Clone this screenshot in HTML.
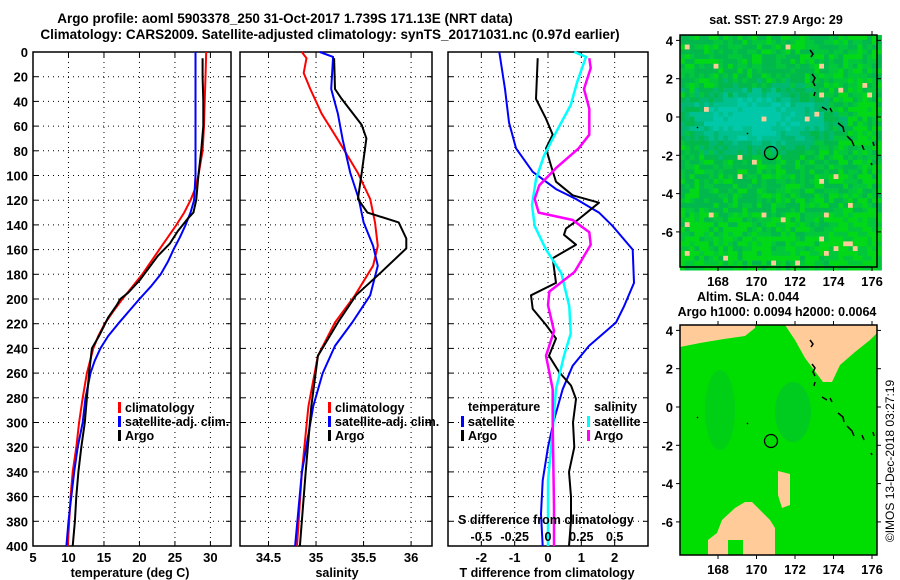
<!DOCTYPE html>
<html><head><meta charset="utf-8"><style>
html,body{margin:0;padding:0;background:#fff;}
svg{display:block;font-family:"Liberation Sans",sans-serif;font-weight:bold;}
</style></head><body>
<svg id="chart" width="900" height="580" viewBox="0 0 900 580" xmlns="http://www.w3.org/2000/svg">
<text x="285" y="23" font-size="13.5" text-anchor="middle">Argo profile: aoml 5903378_250 31-Oct-2017 1.739S 171.13E (NRT data)</text>
<text x="330" y="39" font-size="13.5" text-anchor="middle">Climatology: CARS2009. Satellite-adjusted climatology: synTS_20171031.nc (0.97d earlier)</text>
<g id="panels"></g>
<g id="maps"></g>
<text transform="translate(894,461) rotate(-90)" font-size="12" font-weight="normal" text-anchor="middle">©IMOS 13-Dec-2018 03:27:19</text>
</svg>
<script>
// ---------- data ----------
const depthTicks=[0,20,40,60,80,100,120,140,160,180,200,220,240,260,280,300,320,340,360,380,400];
const tempTicks=[5,10,15,20,25,30];
const salTicks=[34.5,35,35.5,36];
const tdiffTicks=[-2,-1,0,1,2];
const sdiffTicks=[-0.5,-0.25,0,0.25,0.5];
const sdiffTickLabels=["-0.5","-0.25","0","0.25","0.5"];

const depthTempClim=[0,20,40,60,80,100,110,120,130,140,150,160,170,180,190,200,210,220,230,240,260,280,300,320,340,360,380,400];
const tempClim=[29.4,29.3,29.2,29.1,28.9,28.3,27.9,27.2,26.3,25.2,24.0,22.8,21.6,20.4,19.0,17.6,16.3,15.1,14.2,13.5,12.6,12.0,11.5,11.1,10.6,10.3,10.1,9.9];
const depthTempSat=[0,50,100,120,130,140,150,160,170,180,190,200,210,220,230,240,250,260,280,300,320,340,360,380,400];
const tempSat=[27.9,27.9,27.9,27.7,27.2,26.5,25.7,24.8,24.0,23.0,21.6,20.0,18.5,17.0,15.6,14.5,13.7,13.1,12.4,12.0,11.3,10.8,10.4,10.0,9.7];
const depthTempArgo=[5,20,40,60,80,100,120,130,135,145,155,165,175,185,195,200,205,215,230,240,260,280,300,320,340,360,380,400];
const tempArgo=[28.9,28.9,29.0,29.0,28.7,28.3,28.0,27.6,26.8,25.4,24.3,22.6,21.3,20.0,18.4,17.3,16.8,15.6,14.3,13.3,12.9,12.6,12.3,11.8,11.4,11.1,10.9,10.6];

const depthSalClim=[0,5,17,30,50,71,98,119,138,157,173,197,219,246,287,341,400];
const salClim=[34.85,34.90,34.87,34.94,35.06,35.23,35.44,35.57,35.62,35.65,35.60,35.41,35.20,35.02,34.92,34.85,34.80];
const depthSalSat=[0,4,30,50,71,98,119,138,157,173,197,219,238,260,287,341,400];
const salSat=[35.04,35.18,35.16,35.23,35.28,35.36,35.45,35.50,35.60,35.65,35.57,35.38,35.20,35.07,34.97,34.85,34.78];
const depthSalArgo=[5,30,38,59,70,98,119,130,138,151,159,178,197,219,246,287,341,400];
const salArgo=[35.19,35.20,35.27,35.48,35.53,35.48,35.44,35.54,35.87,35.95,35.95,35.69,35.42,35.23,35.02,34.95,34.89,34.83];

const depthTdiffSat=[0,30,57,78,97,111,119,130,141,160,187,206,219,238,254,273,298,320,347,374,400];
const tdiffSat=[-1.46,-1.29,-1.17,-0.96,-0.46,0.24,0.84,1.53,1.94,2.54,2.58,2.28,2.04,1.23,0.74,0.44,0.18,0,-0.16,-0.21,-0.16];
const depthTdiffArgo=[5,38,54,67,78,92,105,116,122,136,143,148,156,167,187,197,208,221,232,246,259,270,281,300,320,340,360,380,400];
const tdiffArgo=[-0.31,-0.36,-0.06,0.14,-0.06,0.09,0.24,0.74,1.53,0.89,0.54,0.48,0.84,0.14,0.24,-0.51,-0.46,-0.06,0.24,0.03,0.33,0.69,0.84,0.75,0.79,0.63,0.69,0.69,0.63];
const depthSdiffSat=[0,4,24,43,65,84,103,124,141,160,179,206,228,246,273,313,347,400];
const sdiffSat=[0.197,0.285,0.22,0.17,0.06,-0.03,-0.09,-0.12,-0.10,-0.015,0.10,0.16,0.17,0.12,0.06,0.03,0,0];
const depthSdiffArgo=[5,13,30,46,67,78,94,108,119,130,136,146,156,178,194,205,226,246,273,300,368,400];
const sdiffArgo=[0.31,0.32,0.27,0.31,0.31,0.23,0.06,-0.065,-0.1,-0.07,0.185,0.31,0.32,0.2,0.01,0,0.045,-0.015,0.035,0.035,0.045,0.045];

const lonTicks=[168,170,172,174,176];
const latTicks=[4,2,0,-2,-4,-6];

// ---------- helpers ----------
const NS="http://www.w3.org/2000/svg";
function mk(tag,attrs,parent){const e=document.createElementNS(NS,tag);for(const k in attrs)e.setAttribute(k,attrs[k]);parent.appendChild(e);return e;}
const panels=document.getElementById('panels');
const Y0=52,Y1=546;
const yDepth=d=>Y0+d/400*(Y1-Y0);
function lin(d0,d1,r0,r1){return v=>r0+(v-d0)/(d1-d0)*(r1-r0);}

function drawFrame(x0,x1,xs,ticks,name){
  const g=mk('g',{},panels);
  
  
  ticks.forEach(t=>{const x=xs(t);
    const l=mk('line',{x1:x,x2:x,y1:Y0,y2:Y1,stroke:'#000','stroke-width':1,'stroke-dasharray':'1,4'},g);
    
    mk('line',{x1:x,x2:x,y1:Y1,y2:Y1-5,stroke:'#000'},g);
    mk('line',{x1:x,x2:x,y1:Y0,y2:Y0+5,stroke:'#000'},g);
  });
  depthTicks.forEach(d=>{const y=yDepth(d);
    if(d>0&&d<400){const l=mk('line',{x1:x0,x2:x1,y1:y,y2:y,stroke:'#000','stroke-width':1,'stroke-dasharray':'1,4'},g);
    }
    mk('line',{x1:x0,x2:x0+5,y1:y,y2:y,stroke:'#000'},g);
    mk('line',{x1:x1-5,x2:x1,y1:y,y2:y,stroke:'#000'},g);
  });
  const r=mk('rect',{x:x0,y:Y0,width:x1-x0,height:Y1-Y0,fill:'none',stroke:'#000','stroke-width':1.5},g);
  
  return g;
}
function line(xs,depths,vals,color,w,name,g){
  const pts=vals.map((v,i)=>xs(v).toFixed(1)+','+yDepth(depths[i]).toFixed(1)).join(' ');
  const p=mk('polyline',{points:pts,fill:'none',stroke:color,'stroke-width':w,'stroke-linejoin':'round'},g);
  
  
}
function txt(x,y,s,size,anchor,name,parent,fill){
  const t=mk('text',{x:x,y:y,'font-size':size,'text-anchor':anchor||'start',fill:fill||'#000'},parent);
  t.textContent=s;
  
  
  return t;
}
function legendEntry(x,y,color,label,g){
  const b=mk('rect',{x:x,y:y-10,width:3,height:11,fill:color},g);
  
  txt(x+7,y,label,12.5,'start','legend-entry',g);
}

depthTicks.forEach(d=>txt(28,yDepth(d)+5,String(d),13,'end','y-tick-label',panels));

const xT=lin(5,32.9,33,231);
const g1=drawFrame(33,231,xT,tempTicks,'temperature-panel');
line(xT,depthTempClim,tempClim,'#f00',2,'temperature-climatology-line',g1);
line(xT,depthTempSat,tempSat,'#00f',2,'temperature-satellite-line',g1);
line(xT,depthTempArgo,tempArgo,'#000',2,'temperature-argo-line',g1);
tempTicks.forEach(t=>txt(xT(t),562,String(t),13,'middle','x-tick-label',panels));
txt(130,577,'temperature (deg C)',12.5,'middle','x-axis-title',panels);
legendEntry(118,412,'#f00','climatology',g1);
legendEntry(118,426,'#00f','satellite-adj. clim.',g1);
legendEntry(118,440,'#000','Argo',g1);

const xS=lin(34.2,36.22,240,432);
const g2=drawFrame(240,432,xS,salTicks,'salinity-panel');
line(xS,depthSalClim,salClim,'#f00',2,'salinity-climatology-line',g2);
line(xS,depthSalSat,salSat,'#00f',2,'salinity-satellite-line',g2);
line(xS,depthSalArgo,salArgo,'#000',2,'salinity-argo-line',g2);
salTicks.forEach(t=>txt(xS(t),562,String(t),13,'middle','x-tick-label',panels));
txt(337,577,'salinity',12.5,'middle','x-axis-title',panels);
legendEntry(328,412,'#f00','climatology',g2);
legendEntry(328,426,'#00f','satellite-adj. clim.',g2);
legendEntry(328,440,'#000','Argo',g2);

const xD=lin(-3,3,448,648);
const xSd=lin(-0.75,0.75,448,648);
const g3=drawFrame(448,648,xD,tdiffTicks,'difference-panel');
line(xD,depthTdiffSat,tdiffSat,'#00f',2,'tdiff-satellite-line',g3);
line(xD,depthTdiffArgo,tdiffArgo,'#000',2,'tdiff-argo-line',g3);
line(xSd,depthSdiffSat,sdiffSat,'#0ff',2.5,'sdiff-satellite-line',g3);
line(xSd,depthSdiffArgo,sdiffArgo,'#f0f',2.5,'sdiff-argo-line',g3);
tdiffTicks.forEach(t=>txt(xD(t),562,String(t),13,'middle','x-tick-label',panels));
txt(547,577,'T difference from climatology',12.5,'middle','x-axis-title',panels);
txt(546,524,'S difference from climatology',12.5,'middle','s-axis-title',g3);
sdiffTicks.forEach((t,i)=>txt(xSd(t),541,sdiffTickLabels[i],12.5,'middle','s-tick-label',g3));
txt(468,411,'temperature',12.5,'start','legend-title',g3);
legendEntry(461,426,'#00f','satellite',g3);
legendEntry(461,440,'#000','Argo',g3);
txt(594,411,'salinity',12.5,'start','legend-title',g3);
legendEntry(587,426,'#0ff','satellite',g3);
legendEntry(587,440,'#f0f','Argo',g3);

// ---------- maps ----------
const maps=document.getElementById('maps');
const MX0=680,MX1=877;
const lonX=lon=>718+(lon-168)*19.25;
function hash(i,j){let h=(i*374761393+j*668265263)^0x5bd1e995;h=(h^(h>>>13))*1274126177;h=h^(h>>>16);return ((h>>>0)%10000)/10000;}
function mapAxes(g,ytop,lat0y,ybot){
  const latY=lat=>lat0y-lat*19.15;
  lonTicks.forEach(l=>{const x=lonX(l);
    mk('line',{x1:x,x2:x,y1:ytop-4,y2:ytop,stroke:'#000'},g);
    mk('line',{x1:x,x2:x,y1:ybot,y2:ybot+4,stroke:'#000'},g);
    txt(x,ybot+19,String(l),13,'middle','map-x-tick-label',g);
  });
  latTicks.forEach(l=>{const y=latY(l);
    mk('line',{x1:MX0-4,x2:MX0,y1:y,y2:y,stroke:'#000'},g);
    mk('line',{x1:MX1,x2:MX1+4,y1:y,y2:y,stroke:'#000'},g);
    txt(673,y+5,String(l),13,'end','map-y-tick-label',g);
  });
  const f=mk('rect',{x:MX0,y:ytop,width:MX1-MX0,height:ybot-ytop,fill:'none',stroke:'#000','stroke-width':1.5},g);
  
  return latY;
}
function coast(g,dy){
  const segs=[[[810,50],[813,54],[811,57]],[[812,74],[815,78],[813,82],[815,86]],[[815,92],[814,96]],[[822,107],[827,110]],[[830,108],[832,112]],[[838,123],[843,127],[844,132]],[[847,136],[852,141],[854,146]],[[862,145],[864,150]],[[873,142],[874,146]],[[697,127],[698,128]],[[747,133],[748,134]],[[871,163],[872,165]]];
  segs.forEach(s=>{const p=mk('polyline',{points:s.map(q=>q[0]+','+(q[1]+dy)).join(' '),fill:'none',stroke:'#000','stroke-width':1.5},g);
    });
}
const gm1=mk('g',{},maps);


txt(776,24,'sat. SST: 27.9 Argo: 29',12.5,'middle','sst-map-title',maps);
const MY0=35,MY1=267;
const cs=4.8;
for(let i=0;i*cs<MX1-MX0;i++){for(let j=0;j*cs<MY1-MY0;j++){
  const x=MX0+i*cs,y=MY0+j*cs;
  const lon=168+(x+cs/2-718)/19.25, lat=(117-(y+cs/2))/19.15;
  const tv=Math.exp(-Math.pow((lat+0.1)/1.7,2)-Math.pow((lon-170)/3.8,2));
  const n=hash(i,j);
  const pk=(lon>173||lat<-4.5)?0.975:0.993;
  let c;
  const v=tv+(n-0.5)*0.4;
  if(n>pk) c='#ffcc99';
  else if(v>0.8) c='#00c8a8';
  else if(v>0.55) c='#00c090';
  else if(v>0.35) c='#00b870';
  else { const m=n+(lat<-5?0.3:0)+(lon>174?0.15:0); c= m>0.75?'#00d818':(m>0.45?'#00c83a':'#00b84c'); }
  mk('rect',{x:x,y:y,width:cs+0.3,height:cs+0.3,fill:c},gm1);
}}
coast(gm1,0);
mapAxes(gm1,MY0,117,MY1);
const c1=mk('circle',{cx:771,cy:153,r:6.5,fill:'none',stroke:'#000','stroke-width':1.3},gm1);


const gm2=mk('g',{},maps);


txt(748,301,'Altim. SLA: 0.044',12.5,'middle','sla-map-title',maps);
txt(777,316,'Argo h1000: 0.0094 h2000: 0.0064',12.5,'middle','sla-map-subtitle',maps);
const NY0=325,NY1=555;
mk('rect',{x:MX0,y:NY0,width:MX1-MX0,height:NY1-NY0,fill:'#00dd00'},gm2);
mk('ellipse',{cx:720,cy:410,rx:15,ry:40,fill:'#00d015'},gm2);
mk('ellipse',{cx:793,cy:412,rx:18,ry:30,fill:'#00cc20'},gm2);
mk('polygon',{points:'680,325 755,325 755,328 745,336 724,339 700,343 680,347',fill:'#ffcc99'},gm2);
mk('polygon',{points:'785,325 877,325 877,333 870,340 855,352 840,365 832,382 823,382 805,358 795,340',fill:'#ffcc99'},gm2);
mk('polygon',{points:'745,502 752,502 760,510 770,520 775,528 775,555 743,555 743,540 728,540 728,555 708,555 708,540 717,533 722,520 735,508',fill:'#ffcc99'},gm2);
mk('polygon',{points:'778,471 790,474 790,505 782,508 778,495',fill:'#ffcc99'},gm2);
coast(gm2,290);
mapAxes(gm2,NY0,407,NY1);
const c2=mk('circle',{cx:771,cy:441,r:6.5,fill:'none',stroke:'#000','stroke-width':1.3},gm2);

</script>
</body></html>
